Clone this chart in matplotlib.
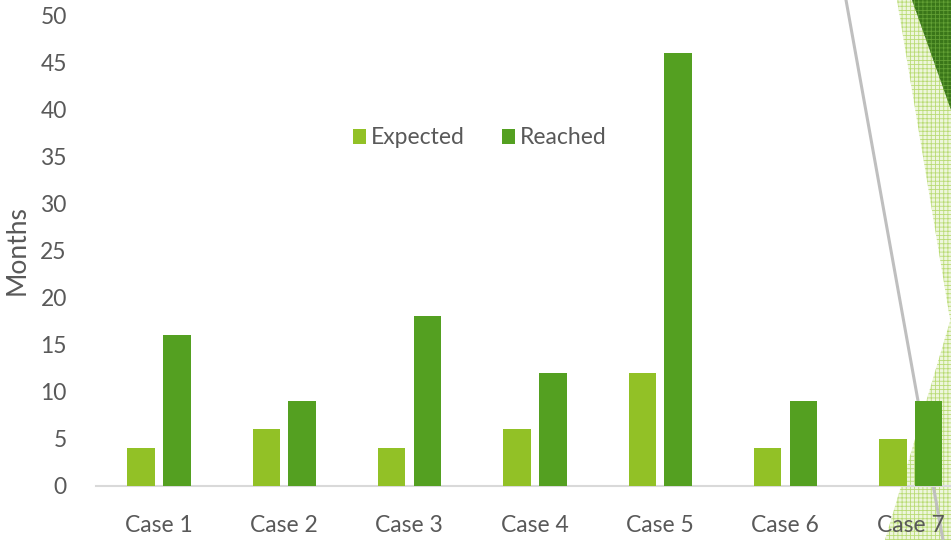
import matplotlib.pyplot as plt
from matplotlib.patches import Polygon

cases = ['Case 1', 'Case 2', 'Case 3', 'Case 4', 'Case 5', 'Case 6', 'Case 7']
expected = [4, 6, 4, 6, 12, 4, 5]
reached = [16, 9, 18, 12, 46, 9, 9]

plt.rcParams['font.family'] = ['Lato', 'DejaVu Sans']
plt.rcParams['hatch.linewidth'] = 0.6
text_color = '#595959'

fig = plt.figure(figsize=(9.51, 5.4), dpi=100)
ax = fig.add_axes([96 / 951, 1 - 486 / 540, 1 - 96 / 951, (486 - 15) / 540])
ax.patch.set_visible(False)

x = range(len(cases))
ax.bar([p - 0.14 for p in x], expected, width=0.22, color='#92C126', label='Expected', zorder=3)
ax.bar([p + 0.145 for p in x], reached, width=0.22, color='#54A021', label='Reached', zorder=3)

ax.set_xlim(-0.5, -0.5 + 855 / 125.3)
ax.set_ylim(0, 50)
ax.set_yticks(range(0, 51, 5))
ax.set_xticks(list(x))
ax.set_xticklabels(cases)
ax.tick_params(length=0, labelsize=16.5, colors=text_color)
ax.tick_params(axis='x', pad=21)
ax.tick_params(axis='y', pad=21)
for side in ['top', 'right', 'left']:
    ax.spines[side].set_visible(False)
ax.spines['bottom'].set_color('#D9D9D9')
ax.spines['bottom'].set_linewidth(1.5)
ax.set_ylabel('Months', fontsize=19, color=text_color, labelpad=8)

ax.legend(loc='upper left', bbox_to_anchor=(236 / 855, 0.805), ncol=2, frameon=False,
          fontsize=16.5, labelcolor=text_color, handlelength=0.6, handleheight=0.6,
          handletextpad=0.2, columnspacing=1.6)


def fpt(px, py):
    return (px / 951, 1 - py / 540)


# theme decoration on the right edge
fig.add_artist(Polygon([fpt(897, 0), fpt(951, 0), fpt(951, 325)], closed=True,
                       facecolor='#EEF6DC', edgecolor='#B9DB74', hatch='++++', linewidth=0,
                       transform=fig.transFigure, zorder=5))
fig.add_artist(Polygon([fpt(912, 0), fpt(951, 0), fpt(951, 110)], closed=True,
                       facecolor='#3A7619', edgecolor='#62A034', hatch='++++', linewidth=0,
                       transform=fig.transFigure, zorder=6))
fig.add_artist(Polygon([fpt(885, 540), fpt(951, 540), fpt(951, 318)], closed=True,
                       facecolor='#EEF6DC', edgecolor='#B9DB74', hatch='++++', linewidth=0,
                       transform=fig.transFigure, zorder=-1))
fig.add_artist(plt.Line2D([846 / 951, 943 / 951], [1.0, 0.0], color='#BFBFBF', linewidth=2.2,
                          transform=fig.transFigure, zorder=-0.5))

fig.savefig('out.png', dpi=100)
plt.close(fig)
